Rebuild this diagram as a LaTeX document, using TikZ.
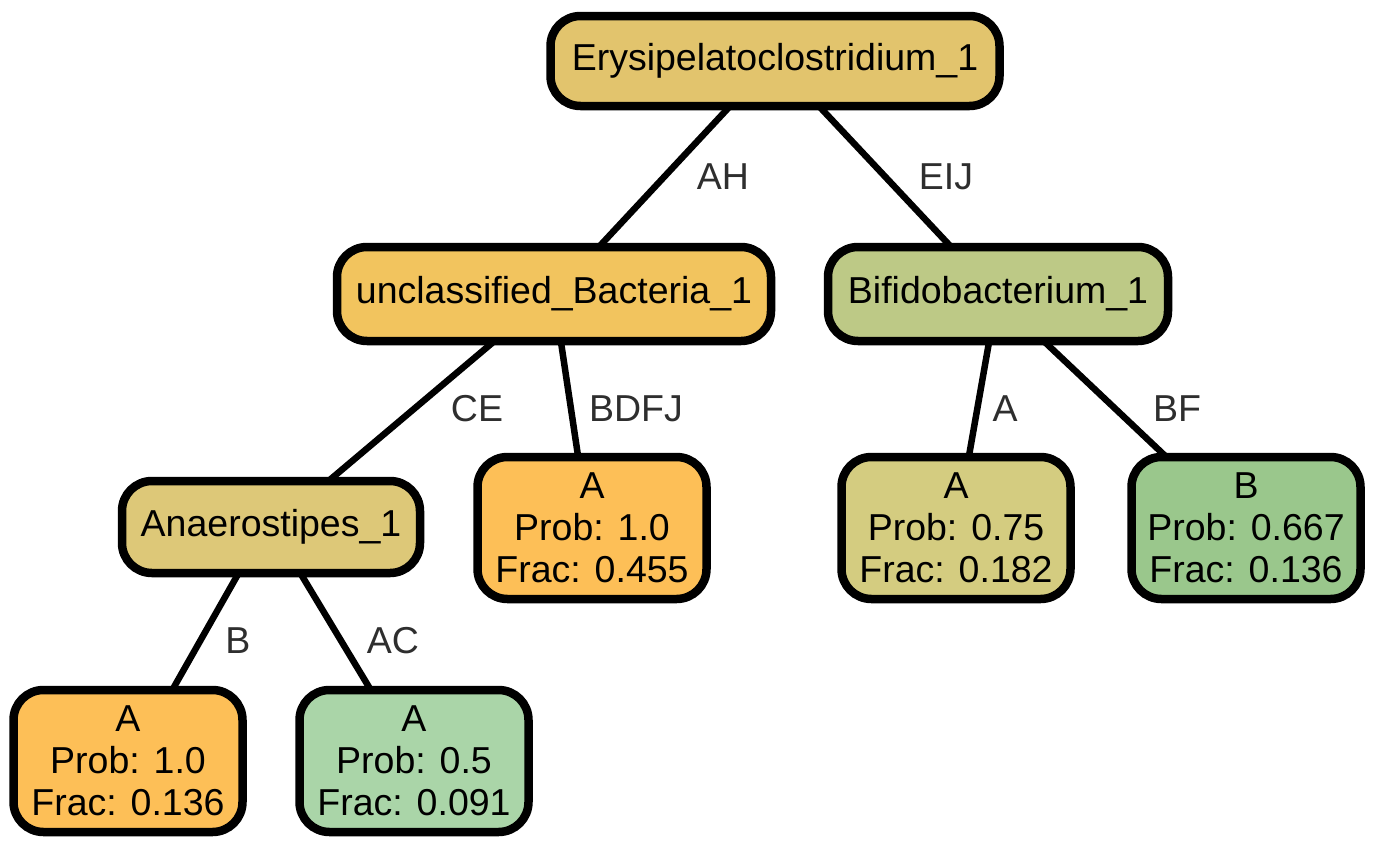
\documentclass[tikz,border=0pt]{standalone}
\usepackage{fontspec}
\setmainfont{Liberation Sans}
\begin{document}
\begin{tikzpicture}[x=1pt,y=-1pt,
  every node/.style={font=\fontsize{37.5}{42}\selectfont},
  box/.style={draw=black, line width=8.5pt, rounded corners=30pt, inner sep=0pt, align=center},
  leaf/.style={box, minimum width=229pt, minimum height=142pt},
  conn/.style={line width=6.5pt},
  elab/.style={text=labgray}]
\definecolor{cRoot}{HTML}{E2C46D}
\definecolor{cUB}{HTML}{F2C45E}
\definecolor{cBif}{HTML}{BDC986}
\definecolor{cAna}{HTML}{DDC878}
\definecolor{cOra}{HTML}{FDBF57}
\definecolor{cGr1}{HTML}{AAD5A8}
\definecolor{cYel}{HTML}{D4CC80}
\definecolor{cGr2}{HTML}{9AC78C}
\definecolor{labgray}{HTML}{2E2E2E}
\useasboundingbox (0,0) rectangle (1376,846);
\node[box, fill=cRoot, minimum width=449pt, minimum height=90pt] (root) at (775,61) {Erysipelatoclostridium\_1};
\node[box, fill=cUB, minimum width=434pt, minimum height=94pt] (ub) at (554,294) {unclassified\_Bacteria\_1};
\node[box, fill=cBif, minimum width=340pt, minimum height=94pt] (bif) at (998,294) {Bifidobacterium\_1};
\node[box, fill=cAna, minimum width=298pt, minimum height=92pt] (ana) at (271,527) {Anaerostipes\_1};
\node[leaf, fill=cOra] (l455) at (592,528) {A\\Prob: 1.0\\Frac: 0.455};
\node[leaf, fill=cYel] (l182) at (956,528) {A\\Prob: 0.75\\Frac: 0.182};
\node[leaf, fill=cGr2] (l136b) at (1246,528) {B\\Prob: 0.667\\Frac: 0.136};
\node[leaf, fill=cOra] (l136) at (128,761) {A\\Prob: 1.0\\Frac: 0.136};
\node[leaf, fill=cGr1] (l091) at (414,761) {A\\Prob: 0.5\\Frac: 0.091};
\draw[conn] ([xshift=-46pt,yshift=3pt]root.south) -- ([xshift=46pt,yshift=-3pt]ub.north);
\draw[conn] ([xshift=45pt,yshift=3pt]root.south) -- ([xshift=-48pt,yshift=-3pt]bif.north);
\draw[conn] ([xshift=-61pt,yshift=3pt]ub.south) -- ([xshift=59pt,yshift=-3pt]ana.north);
\draw[conn] ([xshift=7pt,yshift=3pt]ub.south) -- ([xshift=-14pt,yshift=-3pt]l455.north);
\draw[conn] ([xshift=-9pt,yshift=3pt]bif.south) -- ([xshift=13pt,yshift=-3pt]l182.north);
\draw[conn] ([xshift=47pt,yshift=3pt]bif.south) -- ([xshift=-81pt,yshift=-3pt]l136b.north);
\draw[conn] ([xshift=-33pt,yshift=3pt]ana.south) -- ([xshift=45pt,yshift=-3pt]l136.north);
\draw[conn] ([xshift=30pt,yshift=3pt]ana.south) -- ([xshift=-44pt,yshift=-3pt]l091.north);
\node[elab] (tAH) at (723,177) {AH};
\node[elab] (tEIJ) at (946,177) {EIJ};
\node[elab] (tCE) at (477,409) {CE};
\node[elab] (tBDFJ) at (636,409) {BDFJ};
\node[elab] (tA) at (1005,409) {A};
\node[elab] (tBF) at (1177,409) {BF};
\node[elab] (tB) at (238,641) {B};
\node[elab] (tAC) at (393,641) {AC};
\end{tikzpicture}
\end{document}
